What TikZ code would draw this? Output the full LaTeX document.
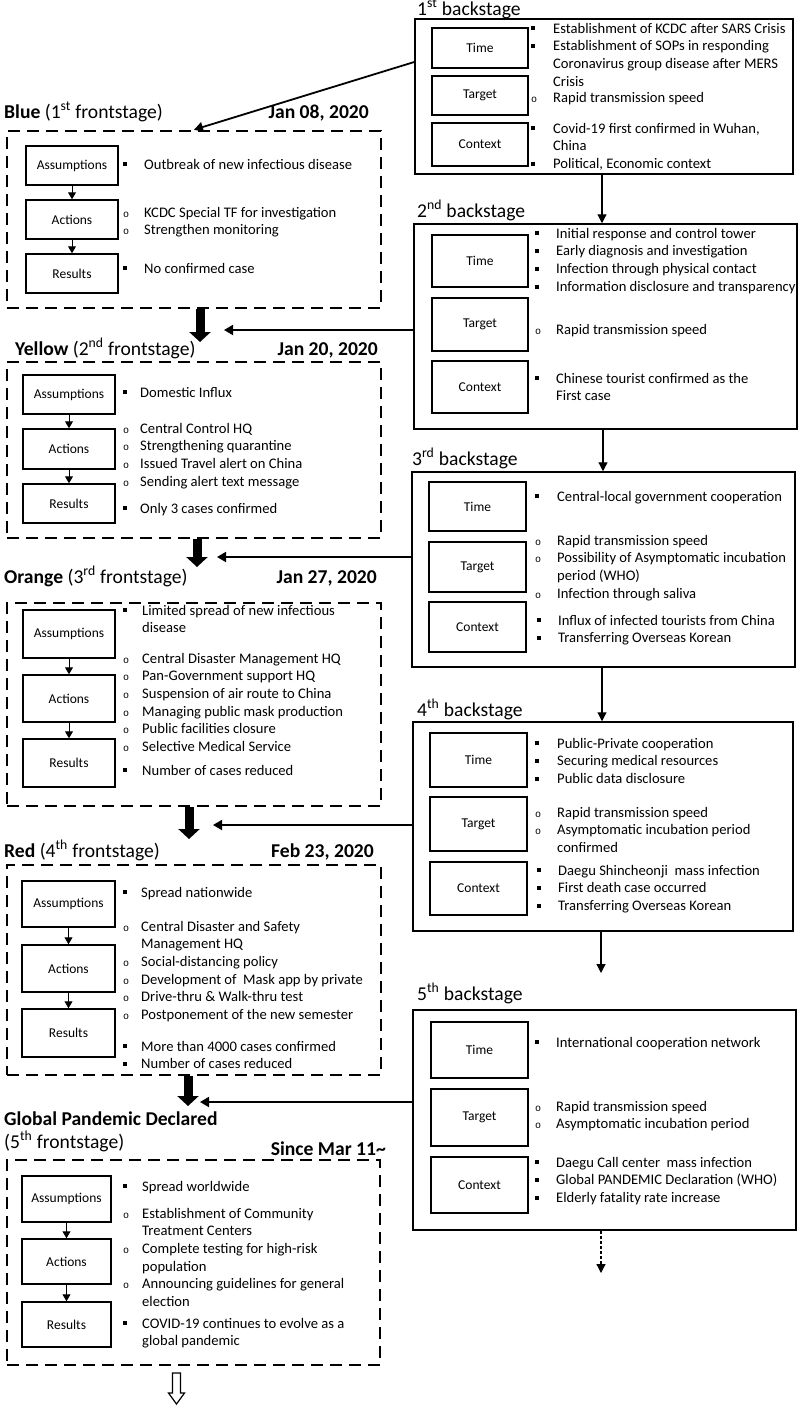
\documentclass[tikz,border=0pt]{standalone}
\usepackage{fontspec}
\setmainfont{Carlito}
\newfontfamily\monof{Liberation Mono}
\usetikzlibrary{arrows.meta}
\newcommand\sqb{\rule[2.6pt]{4pt}{4pt}}
\newcommand\cib{{\monof\fontsize{10}{10}\selectfont o}}
\newcommand\sups[1]{\textsuperscript{#1}}
\newcommand\bl[2]{\begin{tabular}[t]{@{}p{#1}@{}l@{}}#2\end{tabular}}
% \rbox{style}{name}{x1}{y1}{x2}{y2}{text}
\newcommand\rbox[7]{\node[#1, minimum width={#5-#3}, minimum height={#6-#4}] (#2) at ({(#3+#5)/2},{(#4+#6)/2}) {#7};}
\tikzset{
 fstage/.style={draw, line width=2.6pt, dash pattern=on 12pt off 7pt, inner sep=0pt},
 bstage/.style={draw, line width=1.5pt, inner sep=0pt},
 ibox/.style={draw, line width=1.5pt, inner sep=0pt, font=\fontsize{13.5}{15}\selectfont},
 lst/.style={anchor=base west, inner sep=0pt, font=\fontsize{14.6}{17.7}\selectfont},
 ttl/.style={anchor=base west, inner sep=0pt, font=\fontsize{19.6}{22}\selectfont},
 dte/.style={anchor=base east, inner sep=0pt, font=\fontsize{19.6}{22}\selectfont\bfseries},
 iarr/.style={line width=1pt, -{Triangle[width=8pt,length=7pt]}},
 barr/.style={line width=1.2pt, -{Triangle[width=9pt,length=9pt]}},
 larr/.style={line width=1.8pt, -{Triangle[width=10pt,length=9pt]}},
 fat/.style={line width=9pt, -{Triangle[width=21pt,length=10pt]}},
}
\begin{document}
\begin{tikzpicture}[x=1pt,y=-1pt]
\useasboundingbox (0,0) rectangle (800,1406);
% ---------------- Frontstage 1 (Blue)
\node[ttl] (t1) at (4,118) {\textbf{Blue} (1\sups{st} frontstage)};
\node[dte] (d1) at (369,118) {Jan 08, 2020};
\rbox{fstage}{f1}{7}{131}{381}{308}{}
\rbox{ibox}{f1a}{26}{146}{118}{185}{Assumptions}
\rbox{ibox}{f1b}{26}{200}{118}{239}{Actions}
\rbox{ibox}{f1c}{26}{254}{118}{293}{Results}
\draw[iarr] (f1a) -- (f1b); \draw[iarr] (f1b) -- (f1c);
\node[lst] (l1a) at (123,169) {\bl{21pt}{\sqb & Outbreak of new infectious disease}};
\node[lst] (l1b) at (123,217) {\bl{21pt}{\cib & KCDC Special TF for investigation\\ \cib & Strengthen monitoring}};
\node[lst] (l1c) at (123,273) {\bl{21pt}{\sqb & No confirmed case}};
% ---------------- Frontstage 2 (Yellow)
\node[ttl] (t2) at (15,355) {\textbf{Yellow} (2\sups{nd} frontstage)};
\node[dte] (d2) at (378,355) {Jan 20, 2020};
\rbox{fstage}{f2}{7}{362}{381}{538}{}
\rbox{ibox}{f2a}{23}{375}{115}{414}{Assumptions}
\rbox{ibox}{f2b}{23}{429}{115}{469}{Actions}
\rbox{ibox}{f2c}{23}{484}{115}{523}{Results}
\draw[iarr] (f2a) -- (f2b); \draw[iarr] (f2b) -- (f2c);
\node[lst] (l2a) at (123,397) {\bl{17pt}{\sqb & Domestic Influx}};
\node[lst] (l2b) at (123,433) {\bl{17pt}{\cib & Central Control HQ\\ \cib & Strengthening quarantine\\ \cib & Issued Travel alert on China\\ \cib & Sending alert text message}};
\node[lst] (l2c) at (123,513) {\bl{17pt}{\sqb & Only 3 cases confirmed}};
% ---------------- Frontstage 3 (Orange)
\node[ttl] (t3) at (4,583) {\textbf{Orange} (3\sups{rd} frontstage)};
\node[dte] (d3) at (377,583) {Jan 27, 2020};
\rbox{fstage}{f3}{7}{603}{381}{806}{}
\rbox{ibox}{f3a}{23}{610}{115}{658}{Assumptions}
\rbox{ibox}{f3b}{23}{675}{115}{722}{Actions}
\rbox{ibox}{f3c}{23}{739}{115}{787}{Results}
\draw[iarr] (f3a) -- (f3b); \draw[iarr] (f3b) -- (f3c);
\node[lst] (l3a) at (123,615) {\bl{19pt}{\sqb & Limited spread of new infectious\\ & disease}};
\node[lst] (l3b) at (123,663) {\bl{19pt}{\cib & Central Disaster Management HQ\\ \cib & Pan-Government support HQ\\ \cib & Suspension of air route to China\\ \cib & Managing public mask production\\ \cib & Public facilities closure\\ \cib & Selective Medical Service}};
\node[lst] (l3c) at (123,775) {\bl{19pt}{\sqb & Number of cases reduced}};
% ---------------- Frontstage 4 (Red)
\node[ttl] (t4) at (4,857) {\textbf{Red} (4\sups{th} frontstage)};
\node[dte] (d4) at (374,857) {Feb 23, 2020};
\rbox{fstage}{f4}{7}{865}{381}{1075}{}
\rbox{ibox}{f4a}{22}{881}{115}{927}{Assumptions}
\rbox{ibox}{f4b}{22}{945}{115}{992}{Actions}
\rbox{ibox}{f4c}{22}{1009}{115}{1057}{Results}
\draw[iarr] (f4a) -- (f4b); \draw[iarr] (f4b) -- (f4c);
\node[lst] (l4a) at (123,897) {\bl{18pt}{\sqb & Spread nationwide}};
\node[lst] (l4b) at (123,931) {\bl{18pt}{\cib & Central Disaster and Safety\\ & Management HQ\\ \cib & Social-distancing policy\\ \cib & Development of~~Mask app by private\\ \cib & Drive-thru \& Walk-thru test\\ \cib & Postponement of the new semester}};
\node[lst] (l4c) at (123,1051) {\bl{18pt}{\sqb & More than 4000 cases confirmed\\ \sqb & Number of cases reduced}};
% ---------------- Frontstage 5 (Global)
\node[ttl] (t5) at (4,1125) {\textbf{Global Pandemic Declared}};
\node[ttl] (t5b) at (4,1148) {(5\sups{th} frontstage)};
\node[dte] (d5) at (386,1155) {Since Mar 11\textasciitilde};
\rbox{fstage}{f5}{7}{1160}{380}{1365}{}
\rbox{ibox}{f5a}{22}{1176}{111}{1222}{Assumptions}
\rbox{ibox}{f5b}{22}{1239}{111}{1284}{Actions}
\rbox{ibox}{f5c}{22}{1302}{111}{1347}{Results}
\draw[iarr] (f5a) -- (f5b); \draw[iarr] (f5b) -- (f5c);
\node[lst] (l5a) at (123,1191) {\bl{19pt}{\sqb & Spread worldwide}};
\node[lst] (l5b) at (123,1218) {\bl{19pt}{\cib & Establishment of Community\\ & Treatment Centers\\ \cib & Complete testing for high-risk\\ & population\\ \cib & Announcing guidelines for general\\ & election}};
\node[lst] (l5c) at (123,1328) {\bl{19pt}{\sqb & COVID-19 continues to evolve as a\\ & global pandemic}};
% ---------------- Backstage 1
\node[ttl] (u1) at (417,15) {1\sups{st} backstage};
\rbox{bstage}{b1}{415}{19}{793}{174}{}
\rbox{ibox}{b1a}{432}{28}{528}{68}{Time}
\rbox{ibox}{b1b}{432}{76}{528}{115}{Target}
\rbox{ibox}{b1c}{432}{123}{528}{166}{Context}
\node[lst] (m1a) at (531,33) {\bl{22pt}{\sqb & Establishment of KCDC after SARS Crisis\\ \sqb & Establishment of SOPs in responding\\ & Coronavirus group disease after MERS\\ & Crisis}};
\node[lst] (m1b) at (531,102) {\bl{22pt}{\cib & Rapid transmission speed}};
\node[lst] (m1c) at (531,133) {\bl{22pt}{\sqb & Covid-19 first confirmed in Wuhan,\\ & China\\ \sqb & Political, Economic context}};
% ---------------- Backstage 2
\node[ttl] (u2) at (417,217) {2\sups{nd} backstage};
\rbox{bstage}{b2}{414}{224}{797}{429}{}
\rbox{ibox}{b2a}{432}{235}{528}{287}{Time}
\rbox{ibox}{b2b}{432}{298}{528}{351}{Target}
\rbox{ibox}{b2c}{432}{361}{528}{413}{Context}
\node[lst] (m2a) at (535,238) {\bl{21pt}{\sqb & Initial response and control tower\\ \sqb & Early diagnosis and investigation\\ \sqb & Infection through physical contact\\ \sqb & Information disclosure and transparency}};
\node[lst] (m2b) at (535,334) {\bl{21pt}{\cib & Rapid transmission speed}};
\node[lst] (m2c) at (535,383) {\bl{21pt}{\sqb & Chinese tourist confirmed as the\\ & First case}};
% ---------------- Backstage 3
\node[ttl] (u3) at (412,465) {3\sups{rd} backstage};
\rbox{bstage}{b3}{412}{472}{795}{667}{}
\rbox{ibox}{b3a}{429}{482}{526}{531}{Time}
\rbox{ibox}{b3b}{429}{542}{526}{592}{Target}
\rbox{ibox}{b3c}{429}{602}{526}{652}{Context}
\node[lst] (m3a) at (535,501) {\bl{22pt}{\sqb & Central-local government cooperation}};
\node[lst] (m3b) at (535,545) {\bl{22pt}{\cib & Rapid transmission speed\\ \cib & Possibility of Asymptomatic incubation\\ & period (WHO)\\ \cib & Infection through saliva}};
\node[lst] (m3c) at (537,625) {\bl{21pt}{\sqb & Influx of infected tourists from China\\ \sqb & Transferring Overseas Korean}};
% ---------------- Backstage 4
\node[ttl] (u4) at (417,716) {4\sups{th} backstage};
\rbox{bstage}{b4}{413}{722}{793}{931}{}
\rbox{ibox}{b4a}{430}{733}{527}{787}{Time}
\rbox{ibox}{b4b}{430}{797}{527}{851}{Target}
\rbox{ibox}{b4c}{430}{862}{527}{915}{Context}
\node[lst] (m4a) at (535,748) {\bl{22pt}{\sqb & Public-Private cooperation\\ \sqb & Securing medical resources\\ \sqb & Public data disclosure}};
\node[lst] (m4b) at (535,817) {\bl{22pt}{\cib & Rapid transmission speed\\ \cib & Asymptomatic incubation period\\ & confirmed}};
\node[lst] (m4c) at (537,875) {\bl{21pt}{\sqb & Daegu Shincheonji~~mass infection\\ \sqb & First death case occurred\\ \sqb & Transferring Overseas Korean}};
% ---------------- Backstage 5
\node[ttl] (u5) at (417,1000) {5\sups{th} backstage};
\rbox{bstage}{b5}{413}{1010}{796}{1230}{}
\rbox{ibox}{b5a}{431}{1022}{528}{1078}{Time}
\rbox{ibox}{b5b}{431}{1089}{528}{1146}{Target}
\rbox{ibox}{b5c}{431}{1157}{528}{1213}{Context}
\node[lst] (m5a) at (535,1047) {\bl{21pt}{\sqb & International cooperation network}};
\node[lst] (m5b) at (535,1111) {\bl{21pt}{\cib & Rapid transmission speed\\ \cib & Asymptomatic incubation period}};
\node[lst] (m5c) at (535,1167) {\bl{21pt}{\sqb & Daegu Call center~~mass infection\\ \sqb & Global PANDEMIC Declaration (WHO)\\ \sqb & Elderly fatality rate increase}};
% ---------------- connectors
\coordinate (e2) at (224,330);
\coordinate (e3) at (217,557);
\coordinate (e4) at (213,825);
\coordinate (e45) at (601,973);
\coordinate (e5) at (200,1102);
\coordinate (e6) at (601,1273);
\draw[larr] (b1.west |- 0,62) -- (f1.north);
\draw[barr] (b1.south -| 602,0) -- (b2.north -| 602,0);
\draw[larr] (b2.west |- 0,330) -- (e2);
\draw[barr] (b2.south -| 603,0) -- (b3.north -| 603,0);
\draw[larr] (b3.west |- 0,557) -- (e3);
\draw[barr] (b3.south -| 602,0) -- (b4.north -| 602,0);
\draw[larr] (b4.west |- 0,825) -- (e4);
\draw[barr] (b4.south -| 601,0) -- (e45);
\draw[larr] (b5.west |- 0,1102) -- (e5);
\draw[barr, dash pattern=on 3pt off 2pt] (b5.south -| 601,0) -- (e6);
% thick arrows between frontstages
\coordinate (g2) at (200,342);
\coordinate (g3) at (197,567);
\coordinate (g4) at (189,839);
\coordinate (g5) at (188,1106);
\draw[fat] (f1.south -| 200,0) -- (g2);
\draw[fat] (f2.south -| 197,0) -- (g3);
\draw[fat] (f3.south -| 189,0) -- (g4);
\draw[fat] (f4.south -| 188,0) -- (g5);
% hollow arrow out of the last frontstage
\coordinate (h) at (176.5,1373);
\draw[line width=1.2pt, line join=miter] (h) ++(-4,0) -- ++(0,20) -- ++(-4,0) -- (176.5,1404) -- (184.5,1393) -- ++(-4,0) -- ++(0,-20) -- cycle;
\end{tikzpicture}
\end{document}
